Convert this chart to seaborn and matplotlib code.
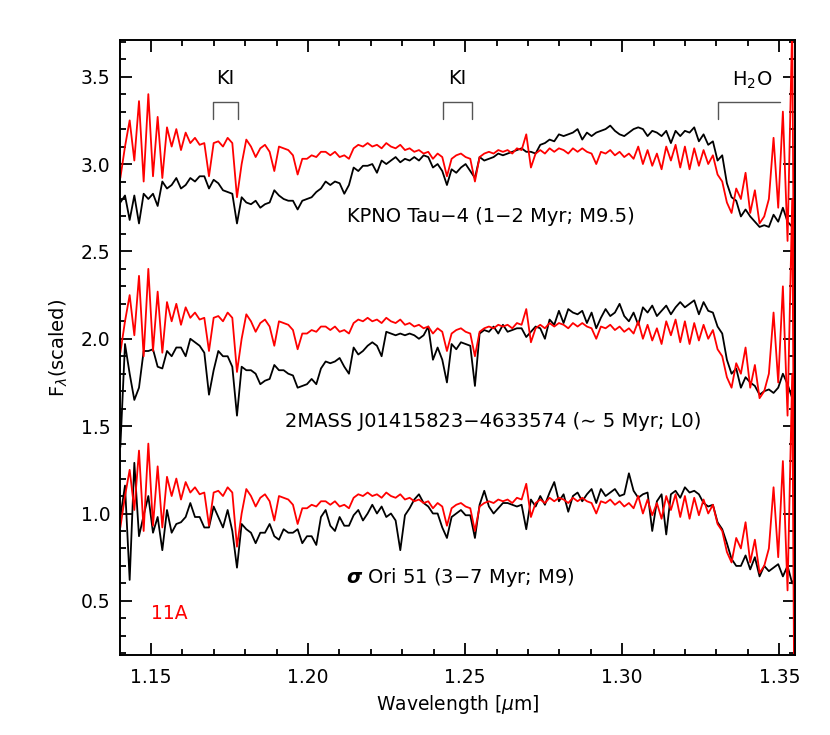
import numpy as np
import matplotlib
matplotlib.use("Agg")
import matplotlib.pyplot as plt
from matplotlib.ticker import MultipleLocator, FormatStrFormatter
import seaborn as sns

# wavelength sampling of the spectra (micron)
wave = np.linspace(1.1403, 1.35558, 146)

# 11A template (red), read at its lowest copy; drawn again at +1 and +2
red_11a = [
    0.92, 1.10, 1.25, 1.02, 1.36, 0.90, 1.40, 0.93, 1.27, 0.92,
    1.21, 1.10, 1.20, 1.08, 1.18, 1.12, 1.15, 1.11, 1.12, 0.93,
    1.12, 1.13, 1.10, 1.15, 1.12, 0.81, 1.00, 1.14, 1.10, 1.04,
    1.09, 1.11, 1.07, 0.96, 1.10, 1.09, 1.08, 1.05, 0.94, 1.03,
    1.03, 1.05, 1.04, 1.07, 1.07, 1.05, 1.07, 1.04, 1.05, 1.03,
    1.09, 1.11, 1.10, 1.12, 1.10, 1.11, 1.09, 1.12, 1.10, 1.09,
    1.11, 1.08, 1.09, 1.07, 1.08, 1.06, 1.07, 1.03, 1.06, 1.04,
    0.93, 1.03, 1.05, 1.06, 1.04, 1.03, 0.90, 1.04, 1.06, 1.07,
    1.06, 1.08, 1.07, 1.08, 1.06, 1.09, 1.08, 1.17, 0.98, 1.06,
    1.08, 1.06, 1.09, 1.07, 1.09, 1.08, 1.06, 1.09, 1.07,
    1.09, 1.07, 1.06, 1.00, 1.07, 1.06, 1.08, 1.05, 1.07, 1.04,
    1.06, 1.03, 1.10, 1.00, 1.08, 0.99, 1.06, 0.97, 1.10, 1.02,
    1.11, 0.98, 1.10, 0.97, 1.09, 0.99, 1.08, 1.00,
    1.05, 0.94, 0.90, 0.78, 0.72, 0.86, 0.80, 0.95, 0.72, 0.85,
    0.66, 0.70, 0.80, 1.15, 0.75, 1.30, 0.56, 1.80, -2.50,
]
red_offsets = [2.0, 1.0, 0.0]

# KPNO Tau-4 (black, top)
kpno_tau4 = [
    2.78, 2.82, 2.68, 2.82, 2.66, 2.83, 2.80, 2.83, 2.76, 2.90,
    2.86, 2.88, 2.92, 2.86, 2.88, 2.92, 2.90, 2.93, 2.93, 2.86,
    2.91, 2.89, 2.85, 2.84, 2.83, 2.66, 2.81, 2.78, 2.77, 2.79,
    2.75, 2.77, 2.78, 2.85, 2.82, 2.80, 2.79, 2.79, 2.74, 2.79,
    2.80, 2.81, 2.84, 2.86, 2.90, 2.88, 2.90, 2.89, 2.83, 2.88,
    2.98, 2.96, 2.99, 2.99, 3.00, 2.95, 3.02, 3.00, 3.02, 3.04,
    3.01, 3.03, 3.02, 3.04, 3.02, 3.05, 3.04, 2.98, 3.00, 2.96,
    2.88, 2.97, 2.95, 2.98, 3.00, 2.96, 2.92, 3.04, 3.02, 3.03,
    3.04, 3.06, 3.05, 3.06, 3.07, 3.08, 3.09, 3.07, 3.07, 3.06,
    3.11, 3.12, 3.14, 3.13, 3.17, 3.16, 3.17, 3.18, 3.20,
    3.14, 3.18, 3.16, 3.18, 3.19, 3.20, 3.22, 3.19, 3.17, 3.16,
    3.18, 3.20, 3.21, 3.20, 3.16, 3.19, 3.18, 3.16, 3.19, 3.12,
    3.19, 3.16, 3.19, 3.18, 3.21, 3.13, 3.17, 3.11,
    3.13, 3.02, 3.05, 2.89, 2.81, 2.79, 2.70, 2.74, 2.70, 2.67,
    2.64, 2.65, 2.64, 2.71, 2.67, 2.75, 2.67, 2.64, 2.70,
]

# 2MASS J01415823-4633574 (black, middle)
j0141 = [
    1.38, 1.97, 1.80, 1.65, 1.72, 1.93, 1.93, 1.94, 1.84, 1.83,
    1.93, 1.90, 1.95, 1.95, 1.90, 2.00, 1.98, 1.96, 1.92, 1.68,
    1.82, 1.93, 1.90, 1.90, 1.84, 1.56, 1.84, 1.82, 1.82, 1.80,
    1.74, 1.76, 1.77, 1.85, 1.82, 1.82, 1.80, 1.79, 1.72, 1.73,
    1.74, 1.77, 1.74, 1.83, 1.87, 1.86, 1.87, 1.89, 1.84, 1.80,
    1.95, 1.91, 1.93, 1.96, 1.98, 1.96, 1.90, 2.04, 2.03, 2.02,
    2.03, 2.02, 2.03, 2.02, 2.00, 2.02, 2.07, 1.88, 1.95, 1.88,
    1.75, 1.97, 1.94, 1.98, 1.97, 1.96, 1.73, 2.03, 2.05, 2.04,
    2.07, 2.03, 2.08, 2.04, 2.05, 2.06, 2.06, 2.01, 2.04, 2.07,
    2.06, 2.00, 2.11, 2.08, 2.16, 2.09, 2.17, 2.15, 2.14,
    2.16, 2.09, 2.15, 2.06, 2.12, 2.17, 2.13, 2.15, 2.20, 2.13,
    2.10, 2.15, 2.08, 2.18, 2.15, 2.19, 2.13, 2.16, 2.19, 2.14,
    2.18, 2.21, 2.18, 2.20, 2.22, 2.14, 2.21, 2.16,
    2.15, 2.07, 2.03, 1.88, 1.80, 1.83, 1.72, 1.78, 1.75, 1.73,
    1.68, 1.70, 1.71, 1.69, 1.72, 1.80, 1.74, 1.66, 1.70,
]

# sigma Ori 51 (black, bottom)
sig_ori51 = [
    0.98, 1.16, 0.62, 1.29, 0.87, 0.99, 1.10, 0.89, 0.98, 0.79,
    1.02, 0.89, 0.94, 0.95, 0.98, 1.06, 0.98, 0.98, 0.92, 0.92,
    1.04, 0.98, 0.92, 1.02, 0.90, 0.69, 0.94, 0.91, 0.89, 0.83,
    0.89, 0.89, 0.94, 0.87, 0.85, 0.91, 0.89, 0.89, 0.91, 0.83,
    0.87, 0.87, 0.82, 0.98, 1.02, 0.93, 0.90, 0.98, 0.93, 0.93,
    0.99, 1.02, 0.96, 1.00, 1.05, 1.00, 1.04, 0.98, 1.00, 0.96,
    0.79, 0.99, 1.03, 1.08, 1.11, 1.06, 1.04, 1.00, 1.00, 0.92,
    0.86, 0.98, 1.00, 1.02, 0.99, 0.99, 0.86, 1.05, 1.13, 1.04,
    1.00, 1.03, 1.06, 1.06, 1.05, 1.04, 1.05, 0.91, 1.08, 1.04,
    1.10, 1.05, 1.12, 1.18, 1.07, 1.11, 1.01, 1.10, 1.12,
    1.07, 1.11, 1.14, 1.06, 1.14, 1.10, 1.12, 1.14, 1.10, 1.11,
    1.23, 1.13, 1.09, 1.11, 1.12, 0.90, 1.07, 1.11, 0.88, 1.11,
    1.13, 1.09, 1.15, 1.12, 1.13, 1.11, 1.06, 1.04,
    1.05, 0.95, 0.91, 0.83, 0.74, 0.70, 0.70, 0.76, 0.68, 0.75,
    0.64, 0.70, 0.67, 0.69, 0.71, 0.64, 0.70, 0.60, 0.65,
]

objects = [kpno_tau4, j0141, sig_ori51]
object_labels = [
    "KPNO Tau\u22124 (1\u22122 Myr; M9.5)",
    "2MASS J01415823\u22124633574 (\u223c 5 Myr; L0)",
    "$\\boldsymbol{\\sigma}$ Ori 51 (3\u22127 Myr; M9)",
]
label_x = [1.2583, 1.2590, 1.2485]
label_y = [2.70, 1.525, 0.634]

# absorption features
feature_names = ["KI", "KI", "H$_2$O"]
feature_lo = [1.1698, 1.2430, 1.3305]
feature_hi = [1.1778, 1.2523, 1.3501]

sns.set_style("ticks")
plt.rcParams['font.family'] = ['DejaVu Sans']
plt.rcParams['mathtext.fontset'] = 'dejavusans'
plt.rcParams.update({'text.color': 'black', 'axes.labelcolor': 'black',
                     'xtick.color': 'black', 'ytick.color': 'black',
                     'axes.edgecolor': 'black'})

fig = plt.figure(figsize=(8.3, 7.35), dpi=100)
ax = fig.add_axes([0.1446, 0.1088, 0.8133, 0.8368])

for spec in objects:
    sns.lineplot(x=wave, y=spec, color='black', lw=1.3, sort=False,
                 estimator=None, ax=ax)
for off in red_offsets:
    sns.lineplot(x=wave, y=np.array(red_11a) + off, color='red', lw=1.3,
                 sort=False, estimator=None, ax=ax)

for lab, lx, ly in zip(object_labels, label_x, label_y):
    ax.text(lx, ly, lab, ha='center', va='center', fontsize=14)

ax.text(1.156, 0.43, "11A", color='red', ha='center', va='center', fontsize=13.5)

# feature brackets
for name, lo, hi in zip(feature_names, feature_lo, feature_hi):
    if name.startswith("H"):
        ax.plot([lo, lo, hi], [3.26, 3.357, 3.357], color='#555555', lw=1)
        ax.text(1.3412, 3.48, name, ha='center', va='center', fontsize=14)
    else:
        ax.plot([lo, lo, hi, hi], [3.26, 3.357, 3.357, 3.26], color='#555555', lw=1)
        ax.text((lo + hi) / 2, 3.49, name, ha='center', va='center', fontsize=14)

ax.set_xlim(1.1402, 1.355)
ax.set_ylim(0.19, 3.71)
ax.xaxis.set_major_locator(MultipleLocator(0.05))
ax.xaxis.set_minor_locator(MultipleLocator(0.01))
ax.yaxis.set_major_locator(MultipleLocator(0.5))
ax.yaxis.set_minor_locator(MultipleLocator(0.1))
ax.xaxis.set_major_formatter(FormatStrFormatter('%.2f'))
ax.yaxis.set_major_formatter(FormatStrFormatter('%.1f'))
ax.tick_params(which='both', direction='in', top=True, right=True,
               labelsize=13.5, width=1.3)
ax.tick_params(axis='x', pad=9)
ax.tick_params(axis='y', pad=7)
ax.tick_params(which='major', length=8.6)
ax.tick_params(which='minor', length=4.3)
for sp in ax.spines.values():
    sp.set_linewidth(1.4)
    sp.set_color('black')

ax.set_xlabel(r"Wavelength [$\mu$m]", fontsize=13.5, labelpad=5)
ax.set_ylabel(r"F$_\lambda$(scaled)", fontsize=14, labelpad=8)

fig.savefig("out.png", dpi=100)
